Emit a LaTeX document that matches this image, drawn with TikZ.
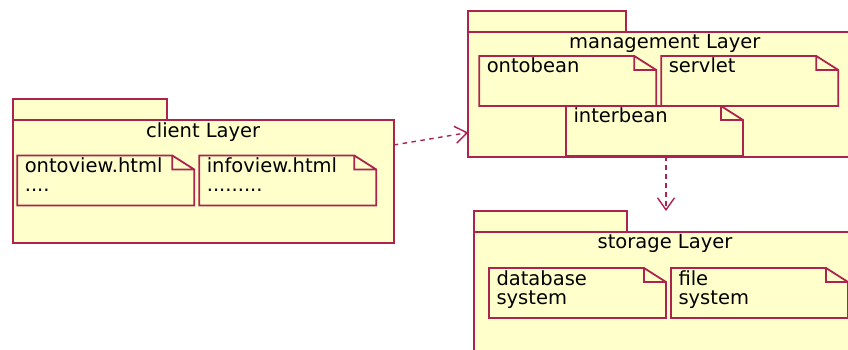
\documentclass[tikz,border=0pt]{standalone}
\usepackage{fontspec}
\setmainfont{DejaVu Sans}
\usepackage{tikz}
\usetikzlibrary{positioning, arrows.meta}
\definecolor{umlline}{RGB}{172,36,78}
\definecolor{umlfill}{RGB}{255,255,204}
\tikzstyle{package} = [rectangle, anchor=north west, outer sep=0pt, draw=umlline, fill=umlfill, line width=1.8pt]
\tikzstyle{tab} = [rectangle, outer sep=0pt, minimum height=21pt, draw=umlline, fill=umlfill, line width=1.8pt]
\tikzstyle{pkgtitle} = [anchor=base, inner sep=0pt, font=\fontsize{19.5}{19}\selectfont]
\tikzstyle{note} = [rectangle, anchor=north west, outer sep=0pt, minimum width=177pt, minimum height=50pt, text width=162pt, align=left, inner xsep=7.5pt, inner ysep=0pt, text height=17pt, text depth=33pt, font=\fontsize{19.5}{19}\selectfont,
  append after command={\pgfextra{\draw[line width=1.8pt, draw=umlline] (\tikzlastnode.north west) -- ([xshift=-22pt]\tikzlastnode.north east) -- ([yshift=-14pt]\tikzlastnode.north east) -- (\tikzlastnode.south east) -- (\tikzlastnode.south west) -- cycle ([xshift=-22pt]\tikzlastnode.north east) |- ([yshift=-14pt]\tikzlastnode.north east);}}]
\tikzstyle{dep} = [line width=1.4pt, draw=umlline, dash pattern=on 4.5pt off 4.5pt, -{Straight Barb[length=12pt, width=17pt, line width=1.4pt]}]

\begin{document}
\begin{tikzpicture}[x=1pt, y=-1pt]
\clip (0,0) rectangle (848,350);

\node (client) [package, minimum width=381pt, minimum height=123pt] at (12.7,120) {};
\node (clienttab) [tab, minimum width=154pt, above right=0pt of client.north west] {};
\node (clienttitle) [pkgtitle] at ([yshift=-17pt]client.north) {client Layer};
\node (ontoview) [note] at (17.3,155.5) {ontoview.html\\....};
\node (infoview) [note, right=5pt of ontoview] {infoview.html\\.........};

\node (mgmt) [package, minimum width=393pt, minimum height=124.5pt] at (468.3,32.3) {};
\node (mgmttab) [tab, minimum width=158pt, above right=0pt of mgmt.north west] {};
\node (mgmttitle) [pkgtitle] at ([yshift=-16pt]mgmt.north) {management Layer};
\node (ontobean) [note] at (479.3,56) {ontobean};
\node (servlet) [note, right=5pt of ontobean] {servlet};
\node (interbean) [note] at (566,106) {interbean};

\node (storage) [package, minimum width=382pt, minimum height=130pt] at (474,232) {};
\node (storagetab) [tab, minimum width=153pt, above right=0pt of storage.north west] {};
\node (storagetitle) [pkgtitle] at ([yshift=-16pt]storage.north) {storage Layer};
\node (database) [note] at (489,268) {database\\system};
\node (filesys) [note, right=5pt of database] {file\\system};

\draw [dep] ([yshift=36.5pt]client.east) -- ([yshift=-38pt]mgmt.west);
\draw [dep] ([xshift=11.5pt]interbean.south) -- ([xshift=11.5pt]interbean.south |- storagetab.north);

\end{tikzpicture}
\end{document}
